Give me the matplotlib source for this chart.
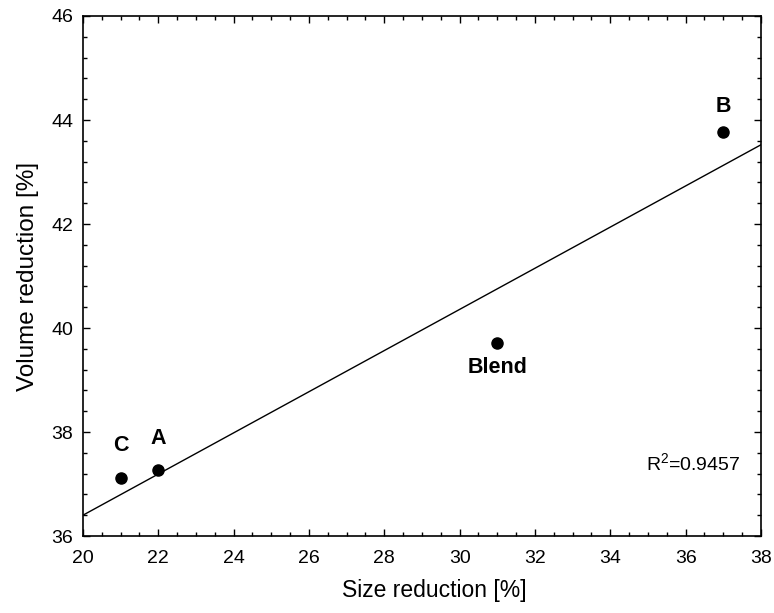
import numpy as np
import matplotlib
matplotlib.use('Agg')
import matplotlib.pyplot as plt
from matplotlib.ticker import MultipleLocator

plt.rcParams['font.family'] = ['Liberation Sans', 'DejaVu Sans']
plt.rcParams['mathtext.fontset'] = 'custom'
plt.rcParams['mathtext.rm'] = 'Liberation Sans'
plt.rcParams['mathtext.it'] = 'Liberation Sans:italic'

# data
samples = ['C', 'A', 'Blend', 'B']
size_red = np.array([21.0, 22.0, 31.0, 37.0])
vol_red = np.array([37.12, 37.26, 39.72, 43.77])
label_dy = [23, 23, -18, 18]  # points, + above / - below
r2_text = 'R$^2$=0.9457'

fig = plt.figure(figsize=(7.74, 6.13), dpi=100)
ax = fig.add_axes([0.1072, 0.1256, 0.876, 0.8483])

# linear fit across the full x range
slope, icpt = np.polyfit(size_red, vol_red, 1)
xf = np.array([20, 38])
ax.plot(xf, slope * xf + icpt, color='black', lw=1.0)

ax.plot(size_red, vol_red, 'o', color='black', ms=8, zorder=3)
for s, x, y, dy in zip(samples, size_red, vol_red, label_dy):
    ax.annotate(s, (x, y), xytext=(0, dy), textcoords='offset points',
                ha='center', va='center', fontsize=15.5, fontweight='bold')

ax.text(34.96, 37.27, r2_text, fontsize=14, ha='left', va='baseline')

ax.set_xlim(20, 38)
ax.set_ylim(36, 46)
ax.xaxis.set_major_locator(MultipleLocator(2))
ax.xaxis.set_minor_locator(MultipleLocator(0.5))
ax.yaxis.set_major_locator(MultipleLocator(2))
ax.yaxis.set_minor_locator(MultipleLocator(0.4))
ax.tick_params(which='both', direction='in', top=True, right=True,
               labelsize=14, width=1.0)
ax.tick_params(which='major', length=5)
ax.tick_params(which='minor', length=3)
ax.tick_params(axis='x', which='major', pad=10)
ax.tick_params(axis='y', which='major', pad=7)
for sp in ax.spines.values():
    sp.set_linewidth(1.2)

ax.set_xlabel('Size reduction [%]', fontsize=16.5, labelpad=9)
ax.set_ylabel('Volume reduction [%]', fontsize=17.5, labelpad=9)
ax.xaxis.label.set_x(0.518)

fig.savefig('out.png', dpi=100)
